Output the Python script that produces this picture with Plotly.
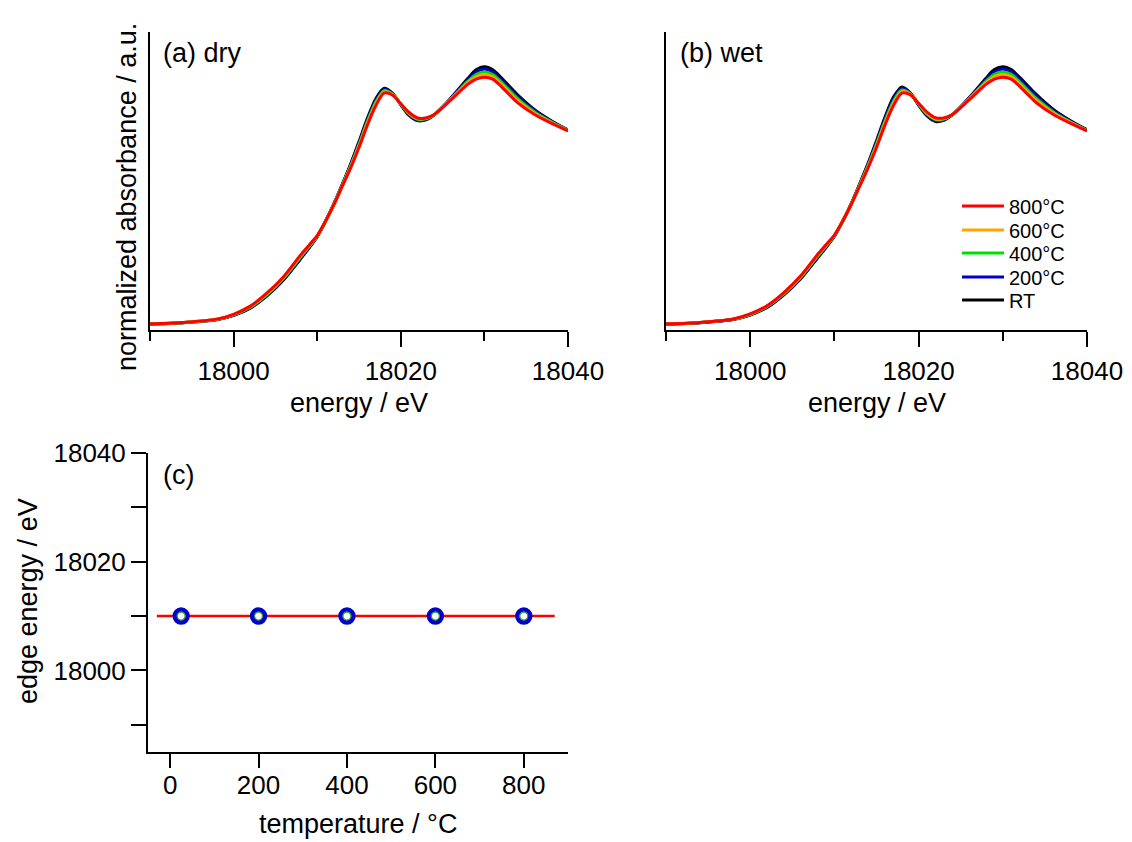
import plotly.graph_objects as go

# ---- XANES spectra: energy grid (eV) shared by all curves ----
energy = [17990, 17994, 17998, 18000, 18002, 18004, 18006, 18008, 18009, 18010,
          18011, 18012, 18013, 18014, 18015, 18016, 18017, 18018, 18019, 18020,
          18021, 18022, 18023, 18024, 18026, 18028, 18029, 18030, 18031, 18032,
          18034, 18036, 18038, 18040]

# (a) dry
dry_RT = [0.000, 0.007, 0.022, 0.044, 0.082, 0.145, 0.228, 0.335, 0.390, 0.450,
          0.530, 0.620, 0.720, 0.825, 0.940, 1.060, 1.160, 1.215, 1.190, 1.130,
          1.075, 1.048, 1.052, 1.078, 1.165, 1.265, 1.310, 1.326, 1.310, 1.270,
          1.180, 1.105, 1.048, 1.000]
dry_200 = [0.000, 0.007, 0.023, 0.045, 0.084, 0.148, 0.232, 0.339, 0.393, 0.451,
           0.530, 0.619, 0.718, 0.821, 0.933, 1.052, 1.152, 1.210, 1.188, 1.131,
           1.078, 1.051, 1.054, 1.078, 1.163, 1.258, 1.299, 1.314, 1.299, 1.260,
           1.171, 1.100, 1.045, 0.999]
dry_400 = [0.000, 0.008, 0.024, 0.047, 0.087, 0.152, 0.237, 0.345, 0.398, 0.452,
           0.530, 0.618, 0.715, 0.815, 0.925, 1.043, 1.143, 1.203, 1.185, 1.133,
           1.083, 1.055, 1.057, 1.079, 1.160, 1.250, 1.286, 1.299, 1.286, 1.248,
           1.160, 1.093, 1.042, 0.998]
dry_600 = [0.000, 0.008, 0.024, 0.049, 0.090, 0.156, 0.241, 0.350, 0.401, 0.454,
           0.530, 0.616, 0.712, 0.810, 0.918, 1.034, 1.134, 1.196, 1.183, 1.134,
           1.086, 1.059, 1.060, 1.080, 1.158, 1.243, 1.274, 1.286, 1.274, 1.236,
           1.150, 1.086, 1.038, 0.996]
dry_800 = [0.000, 0.008, 0.025, 0.050, 0.092, 0.160, 0.245, 0.355, 0.405, 0.455,
           0.530, 0.615, 0.710, 0.805, 0.910, 1.025, 1.125, 1.190, 1.180, 1.135,
           1.090, 1.062, 1.062, 1.080, 1.155, 1.235, 1.262, 1.272, 1.262, 1.225,
           1.140, 1.080, 1.035, 0.995]

# (b) wet
wet_RT = [0.000, 0.007, 0.023, 0.046, 0.085, 0.150, 0.233, 0.340, 0.394, 0.452,
          0.530, 0.620, 0.722, 0.828, 0.945, 1.065, 1.168, 1.222, 1.192, 1.128,
          1.072, 1.044, 1.050, 1.078, 1.166, 1.267, 1.311, 1.326, 1.311, 1.271,
          1.182, 1.106, 1.049, 1.001]
wet_200 = [0.000, 0.007, 0.024, 0.047, 0.087, 0.153, 0.236, 0.344, 0.397, 0.453,
           0.530, 0.619, 0.719, 0.823, 0.937, 1.056, 1.159, 1.215, 1.190, 1.130,
           1.076, 1.048, 1.053, 1.078, 1.164, 1.260, 1.300, 1.314, 1.300, 1.261,
           1.173, 1.100, 1.046, 1.000]
wet_400 = [0.000, 0.008, 0.025, 0.049, 0.090, 0.156, 0.241, 0.349, 0.401, 0.455,
           0.531, 0.618, 0.716, 0.817, 0.928, 1.045, 1.147, 1.206, 1.187, 1.133,
           1.082, 1.054, 1.056, 1.079, 1.161, 1.251, 1.287, 1.299, 1.287, 1.248,
           1.161, 1.093, 1.042, 0.998]
wet_600 = [0.000, 0.008, 0.025, 0.051, 0.092, 0.159, 0.244, 0.354, 0.405, 0.457,
           0.532, 0.617, 0.713, 0.811, 0.919, 1.035, 1.136, 1.198, 1.185, 1.136,
           1.087, 1.058, 1.059, 1.080, 1.158, 1.243, 1.274, 1.286, 1.274, 1.237,
           1.151, 1.087, 1.039, 0.997]
wet_800 = [0.000, 0.008, 0.026, 0.052, 0.094, 0.162, 0.248, 0.358, 0.408, 0.458,
           0.532, 0.616, 0.710, 0.805, 0.910, 1.025, 1.125, 1.190, 1.182, 1.138,
           1.092, 1.063, 1.062, 1.080, 1.155, 1.235, 1.262, 1.272, 1.262, 1.225,
           1.140, 1.080, 1.035, 0.995]

series_names = ["RT", "200°C", "400°C", "600°C", "800°C"]
series_colors = ["#000000", "#0000CC", "#00E000", "#FFA500", "#FF0000"]
dry_series = [dry_RT, dry_200, dry_400, dry_600, dry_800]
wet_series = [wet_RT, wet_200, wet_400, wet_600, wet_800]

# (c) edge energy vs. temperature
temperature = [25, 200, 400, 600, 800]
edge_energy = [18010, 18010, 18010, 18010, 18010]
fit_temperature = [-30, 870]
fit_edge_energy = [18010, 18010]

FONT = "Liberation Sans, Arial, sans-serif"
W, H = 1132, 842


def px_x(p):
    return p / W


def px_y(p):
    return 1 - p / H


fig = go.Figure()

# one legend per series so the entries sit at a fixed spacing (800°C on top)
legend_ids = ["legend5", "legend4", "legend3", "legend2", "legend"]
legend_rows = [300, 277, 253, 230, 206]

for name, color, ys in zip(series_names, series_colors, dry_series):
    fig.add_trace(go.Scatter(x=energy, y=ys, mode="lines", name=name,
                             line=dict(color=color, width=3, shape="spline", smoothing=0.8),
                             xaxis="x", yaxis="y", showlegend=False))
for name, color, ys, lg in zip(series_names, series_colors, wet_series, legend_ids):
    fig.add_trace(go.Scatter(x=energy, y=ys, mode="lines", name=name,
                             line=dict(color=color, width=3, shape="spline", smoothing=0.8),
                             xaxis="x2", yaxis="y2", showlegend=True, legend=lg))

fig.add_trace(go.Scatter(x=fit_temperature, y=fit_edge_energy, mode="lines",
                         line=dict(color="#FF0000", width=2.5),
                         xaxis="x3", yaxis="y3", showlegend=False))
fig.add_trace(go.Scatter(x=temperature, y=edge_energy, mode="markers",
                         marker=dict(symbol="circle", size=13, color="white",
                                     line=dict(color="#0000CC", width=4.5)),
                         xaxis="x3", yaxis="y3", showlegend=False))
fig.add_trace(go.Scatter(x=temperature, y=edge_energy, mode="markers",
                         marker=dict(symbol="circle-open", size=8,
                                     line=dict(color="#FF0000", width=1.2)),
                         xaxis="x3", yaxis="y3", showlegend=False))

axis_common = dict(showline=True, linecolor="black", linewidth=2, showgrid=False,
                   zeroline=False, ticks="outside", tickcolor="black", tickwidth=2,
                   automargin=False, tickformat="d",
                   tickfont=dict(family=FONT, size=26, color="black"))

energy_axis = dict(axis_common, range=[17990, 18040], tick0=18000, dtick=20, ticklen=15,
                   ticklabelstandoff=2,
                   minor=dict(tick0=17990, dtick=10, ticks="outside", ticklen=9,
                              tickwidth=2, tickcolor="black"))
absorb_axis = dict(showline=True, linecolor="black", linewidth=2, showgrid=False,
                   zeroline=False, ticks="", showticklabels=False, automargin=False,
                   range=[-0.031, 1.505])

legend_layout = {}
for lg, row in zip(legend_ids, legend_rows):
    legend_layout[lg] = dict(x=px_x(957), y=px_y(row), xanchor="left", yanchor="middle",
                             bgcolor="rgba(0,0,0,0)", borderwidth=0,
                             font=dict(family=FONT, size=20, color="black"),
                             itemwidth=42)

fig.update_layout(
    template="none",
    width=W, height=H,
    margin=dict(l=0, r=0, t=0, b=0, autoexpand=False),
    paper_bgcolor="white", plot_bgcolor="white",
    font=dict(family=FONT, color="black"),
    xaxis=dict(energy_axis, domain=[px_x(150), px_x(568)], anchor="y"),
    yaxis=dict(absorb_axis, domain=[px_y(330), px_y(32)], anchor="x"),
    xaxis2=dict(energy_axis, domain=[px_x(666), px_x(1087)], anchor="y2"),
    yaxis2=dict(absorb_axis, domain=[px_y(330), px_y(32)], anchor="x2"),
    xaxis3=dict(axis_common, domain=[px_x(148), px_x(568)], anchor="y3",
                range=[-50, 900], tick0=0, dtick=200, ticklen=14,
                ticklabelstandoff=-5),
    yaxis3=dict(axis_common, domain=[px_y(752), px_y(453)], anchor="x3",
                range=[17985, 18040], tick0=18000, dtick=20, ticklen=15,
                minor=dict(tick0=17990, dtick=10, ticks="outside", ticklen=15,
                           tickwidth=2, tickcolor="black")),
    showlegend=True,
    **legend_layout,
)

title_font = dict(family=FONT, size=27, color="black")
annotations = [
    dict(text="normalized absorbance / a.u.", x=px_x(127), y=px_y(197), textangle=-90,
         xanchor="center", yanchor="middle"),
    dict(text="energy / eV", x=px_x(359), y=px_y(403), xanchor="center", yanchor="middle"),
    dict(text="energy / eV", x=px_x(877), y=px_y(403), xanchor="center", yanchor="middle"),
    dict(text="temperature / °C", x=px_x(358), y=px_y(824), xanchor="center", yanchor="middle"),
    dict(text="edge energy / eV", x=px_x(28), y=px_y(601), textangle=-90,
         xanchor="center", yanchor="middle"),
    dict(text="(a) dry", x=px_x(161), y=px_y(53), xanchor="left", yanchor="middle"),
    dict(text="(b) wet", x=px_x(678), y=px_y(53), xanchor="left", yanchor="middle"),
    dict(text="(c)", x=px_x(161), y=px_y(475), xanchor="left", yanchor="middle"),
]
for a in annotations:
    fig.add_annotation(xref="paper", yref="paper", showarrow=False, font=title_font, **a)

fig.write_html("out.html")
